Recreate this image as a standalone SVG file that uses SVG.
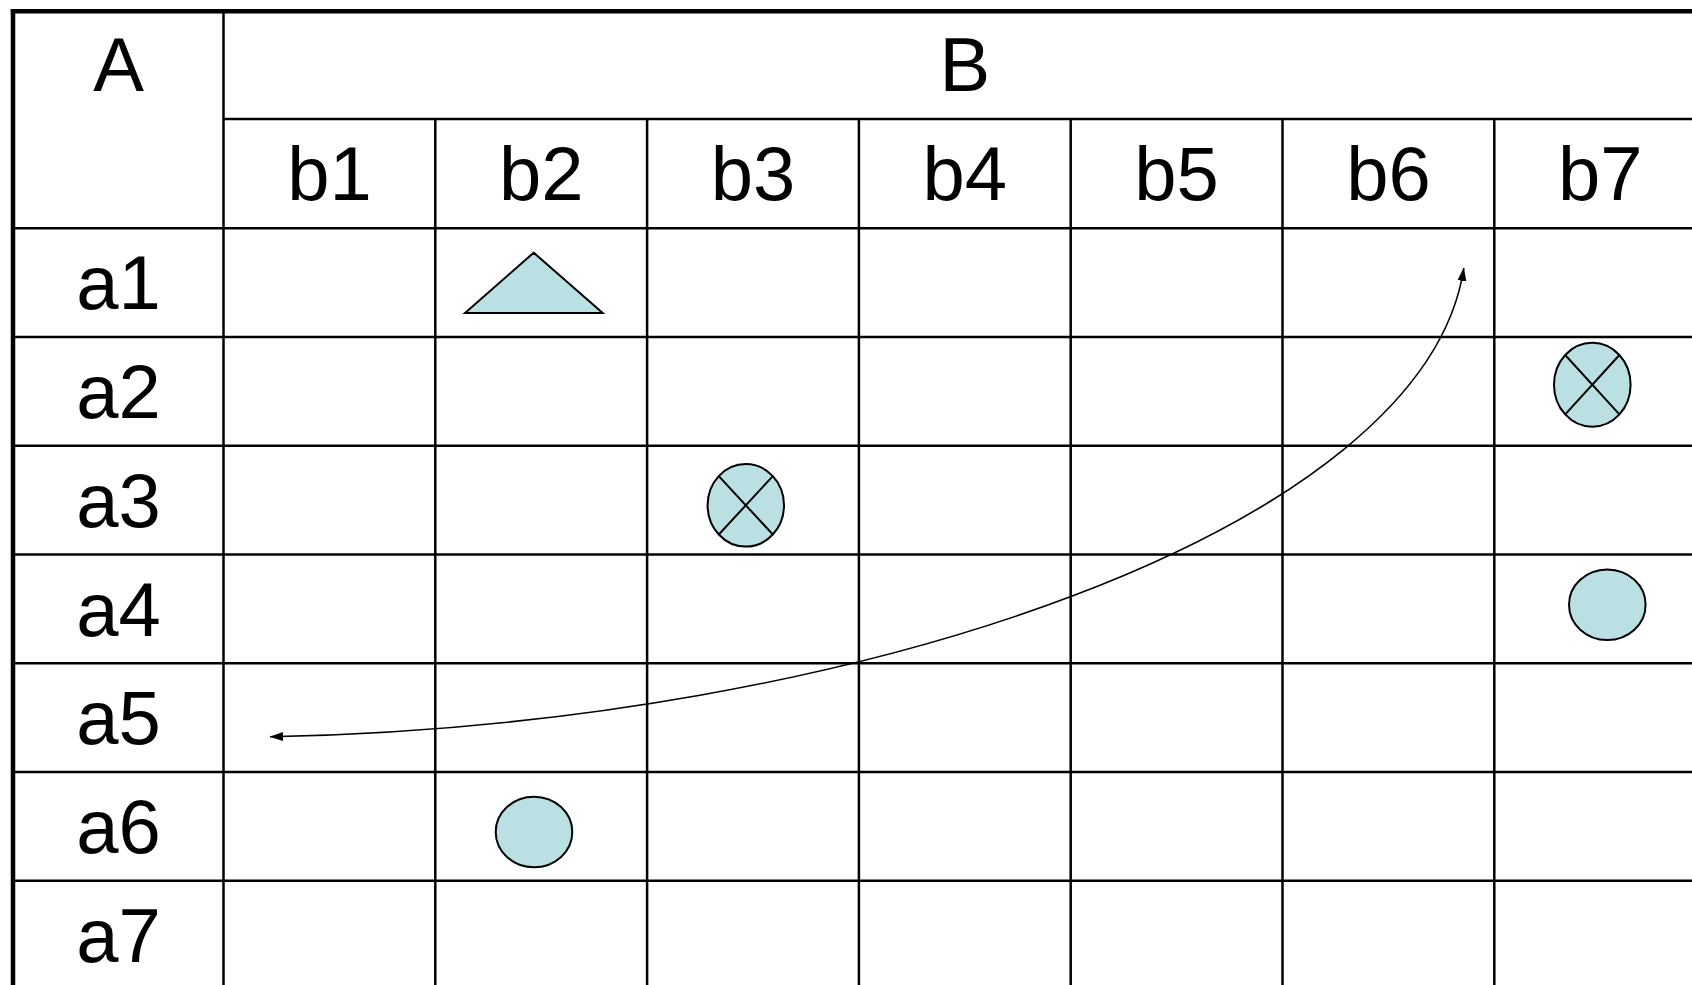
<svg xmlns="http://www.w3.org/2000/svg" width="1692" height="985" viewBox="0 0 1692 985">
<style>
.g{stroke:#000;stroke-width:2.5;fill:none}
.b{stroke:#000;stroke-width:4.5;fill:none}
.t{font-family:"Liberation Sans",Arial,sans-serif;font-size:76px;fill:#000;text-anchor:middle}
.s{fill:#BBE0E3;stroke:#000;stroke-width:2}
.x{stroke:#000;stroke-width:2;fill:none}
.c{stroke:#000;stroke-width:1.6;fill:none;marker-start:url(#ah);marker-end:url(#ah)}
</style>
<defs>
<marker id="ah" markerUnits="userSpaceOnUse" markerWidth="14" markerHeight="10" viewBox="0 0 14 10" refX="13" refY="5" orient="auto-start-reverse">
<path d="M0,0.5 L13.5,5 L0,9.5 z" fill="#000"/>
</marker>
</defs>
<rect width="1692" height="985" fill="#fff"/>
<g id="grid">
<line class="g" x1="223.5" y1="119" x2="1692" y2="119"/>
<line class="g" x1="13" y1="228.3" x2="1692" y2="228.3"/>
<line class="g" x1="13" y1="337.05" x2="1692" y2="337.05"/>
<line class="g" x1="13" y1="445.8" x2="1692" y2="445.8"/>
<line class="g" x1="13" y1="554.55" x2="1692" y2="554.55"/>
<line class="g" x1="13" y1="663.3" x2="1692" y2="663.3"/>
<line class="g" x1="13" y1="772.05" x2="1692" y2="772.05"/>
<line class="g" x1="13" y1="880.8" x2="1692" y2="880.8"/>
<line class="g" x1="223.5" y1="11" x2="223.5" y2="985"/>
<line class="g" x1="435.3" y1="119" x2="435.3" y2="985"/>
<line class="g" x1="647.1" y1="119" x2="647.1" y2="985"/>
<line class="g" x1="858.9" y1="119" x2="858.9" y2="985"/>
<line class="g" x1="1070.7" y1="119" x2="1070.7" y2="985"/>
<line class="g" x1="1282.5" y1="119" x2="1282.5" y2="985"/>
<line class="g" x1="1494.3" y1="119" x2="1494.3" y2="985"/>
<line class="b" x1="10.8" y1="11.2" x2="1692" y2="11.2"/>
<line class="b" x1="13" y1="9" x2="13" y2="985"/>
</g>
<g id="headers">
<text class="t" x="118.5" y="91">A</text>
<text class="t" x="964.8" y="91">B</text>
<text class="t" x="329.4" y="199.5">b1</text>
<text class="t" x="541.2" y="199.5">b2</text>
<text class="t" x="753" y="199.5">b3</text>
<text class="t" x="964.8" y="199.5">b4</text>
<text class="t" x="1176.6" y="199.5">b5</text>
<text class="t" x="1388.4" y="199.5">b6</text>
<text class="t" x="1600.2" y="199.5">b7</text>
<text class="t" x="118.5" y="309.3">a1</text>
<text class="t" x="118.5" y="418.05">a2</text>
<text class="t" x="118.5" y="526.8">a3</text>
<text class="t" x="118.5" y="635.55">a4</text>
<text class="t" x="118.5" y="744.3">a5</text>
<text class="t" x="118.5" y="853.05">a6</text>
<text class="t" x="118.5" y="961.8">a7</text>
</g>
<g id="tri-a1b2">
<polygon class="s" points="533.7,252.7 465,313 602.7,313"/>
</g>
<g id="cross-a3b3">
<ellipse class="s" cx="745.8" cy="505.3" rx="38.2" ry="41.3"/>
<line class="x" x1="718.8" y1="476.1" x2="772.8" y2="534.5"/>
<line class="x" x1="772.8" y1="476.1" x2="718.8" y2="534.5"/>
</g>
<g id="cross-a2b7">
<ellipse class="s" cx="1592.3" cy="384.7" rx="38.3" ry="42"/>
<line class="x" x1="1565.2" y1="355" x2="1619.4" y2="414.4"/>
<line class="x" x1="1619.4" y1="355" x2="1565.2" y2="414.4"/>
</g>
<g id="circle-a4b7">
<ellipse class="s" cx="1607.3" cy="604.7" rx="38.3" ry="35.3"/>
</g>
<g id="circle-a6b2">
<ellipse class="s" cx="534" cy="832" rx="38.3" ry="35.3"/>
</g>
<g id="connectors">
<path class="c" d="M270,736.8 C860,725.2 1425,528 1463.8,268"/>
</g>
</svg>
